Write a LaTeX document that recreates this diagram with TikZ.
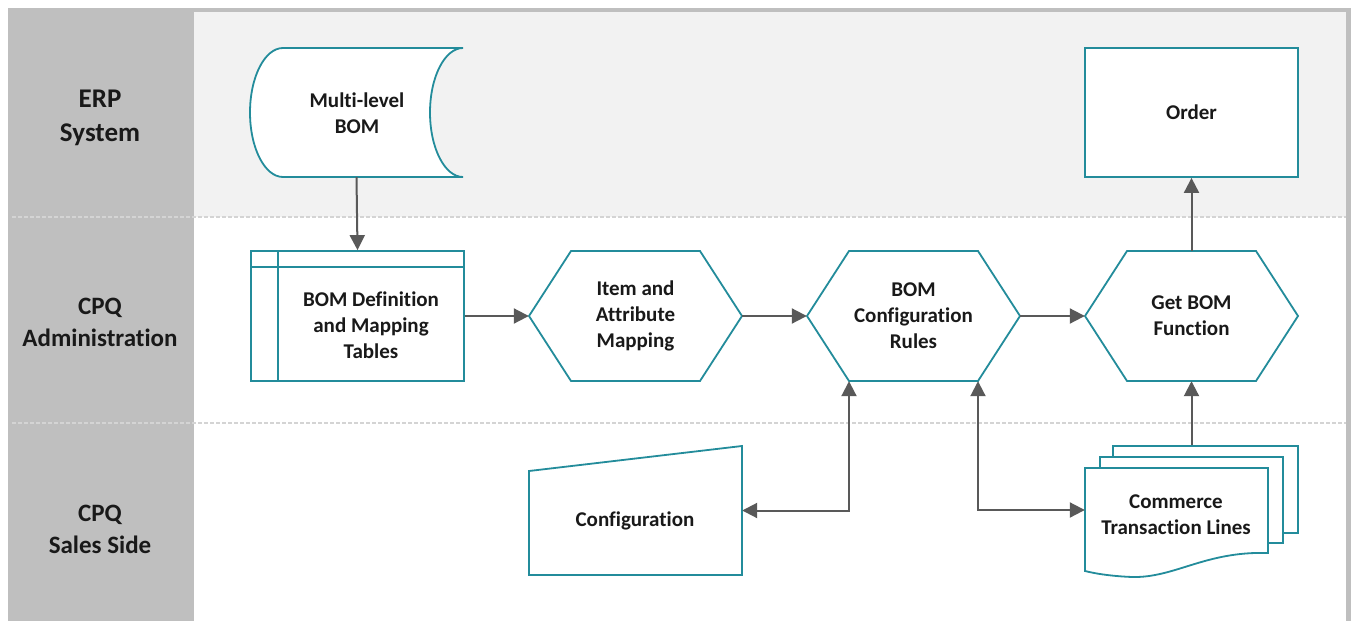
\documentclass[tikz,border=0pt]{standalone}
\usepackage{fontspec}
\setmainfont{Carlito}[Ligatures={NoCommon}]
\usetikzlibrary{arrows.meta,calc}
\definecolor{teal1}{RGB}{35,140,155}
\definecolor{arrgray}{RGB}{89,89,89}
\definecolor{framegray}{RGB}{191,191,191}
\definecolor{bandgray}{RGB}{242,242,242}
\definecolor{dotgray}{RGB}{212,212,212}
\definecolor{txt}{RGB}{25,25,25}
\begin{document}
\begin{tikzpicture}[x=1pt,y=-1pt,
 shapeline/.style={draw=teal1,line width=1.8pt,fill=white},
 box/.style={draw=none,minimum width=213pt,minimum height=130pt,inner sep=0pt},
 lbl/.style={font=\bfseries\fontsize{21}{26}\selectfont,text=txt,align=center,inner sep=0pt},
 lane/.style={font=\bfseries\fontsize{25}{32}\selectfont,text=txt,align=center,inner sep=0pt},
 arr/.style={draw=arrgray,line width=2pt,-{Triangle[length=15pt,width=15pt]}},
 darr/.style={draw=arrgray,line width=2pt,{Triangle[length=15pt,width=15pt]}-{Triangle[length=15pt,width=15pt]}},
 sep/.style={draw=dotgray,line width=2pt,dash pattern=on 4pt off 2pt}]
\useasboundingbox (0,0) rectangle (1351,621);
% frame and lanes
\fill[framegray] (8,8) rectangle (1351,621);
\fill[white] (194,12) rectangle (1346,621);
\fill[bandgray] (194,12) rectangle (1346,217);
\draw[sep] (12,217) -- (1346,217);
\draw[sep] (12,423) -- (1346,423);
\node[lane,font=\bfseries\fontsize{27}{34}\selectfont] (erp) at (100,118) {ERP\\System};
\node[lane] (adm) at (100,322) {CPQ\\Administration};
\node[lane] (sales) at (100,529) {CPQ\\Sales Side};

% Multi-level BOM (stored data)
\path[shapeline] (283,48) -- (463,48)
  .. controls (444.8,48) and (430,76.9) .. (430,112.5)
  .. controls (430,148.1) and (444.8,177) .. (463,177)
  -- (283,177)
  .. controls (264.8,177) and (250,148.1) .. (250,112.5)
  .. controls (250,76.9) and (264.8,48) .. cycle;
\node[box,minimum height=129pt] (mlbom) at (356.5,112.5) {};
\node[lbl] (mlbomtxt) at (357,113) {Multi-level\\BOM};

% BOM Definition and Mapping Tables
\node[box,shapeline] (bomdef) at (357.5,316) {};
\draw[teal1,line width=1.8pt] (278,251) -- (278,381);
\draw[teal1,line width=1.8pt] (251,267) -- (464,267);
\node[lbl] (bomdeftxt) at (371,325) {BOM Definition\\and Mapping\\Tables};

% hexagons
\path[shapeline] (529,316) -- (571,251) -- (700,251) -- (742,316) -- (700,381) -- (571,381) -- cycle;
\node[box,lbl] (item) at (635.5,316) {Item and\\Attribute\\Mapping};
\path[shapeline] (807,316) -- (849,251) -- (978,251) -- (1020,316) -- (978,381) -- (849,381) -- cycle;
\node[box,lbl] (bomcfg) at (913.5,316) {BOM\\Configuration\\Rules};
\path[shapeline] (1085,316) -- (1127,251) -- (1256,251) -- (1298,316) -- (1256,381) -- (1127,381) -- cycle;
\node[box,lbl] (getbom) at (1191.5,316) {Get BOM\\Function};

% Order
\node[box,shapeline,minimum height=129pt,lbl] (order) at (1191.5,112.5) {Order};

% Configuration (manual input)
\path[shapeline] (529,471) -- (742,446) -- (742,575) -- (529,575) -- cycle;
\node[box,minimum height=129pt] (config) at (635.5,510.5) {};
\node[lbl] (configtxt) at (635,521) {Configuration};

% Commerce Transaction Lines (multi-document)
\node[shapeline,minimum width=185pt,minimum height=87pt,inner sep=0pt] (ctlback) at (1205.5,489.5) {};
\node[shapeline,minimum width=183pt,minimum height=86pt,inner sep=0pt] (ctlmid) at (1191.5,500) {};
\path[shapeline] (1085,468) -- (1268,468) -- (1268,553)
  .. controls (1205,551) and (1175,578) .. (1132,577)
  .. controls (1108,576) and (1093,573) .. (1085,571) -- cycle;
\node[box,minimum width=183pt,minimum height=84pt] (ctl) at (1176.5,510) {};
\node[lbl] (ctltxt) at (1176,515) {Commerce\\Transaction Lines};

% connectors
\draw[arr] (mlbom.south) -- (bomdef.north);
\draw[arr] (bomdef.east) -- (item.west);
\draw[arr] (item.east) -- (bomcfg.west);
\draw[arr] (bomcfg.east) -- (getbom.west);
\draw[arr] (getbom.north) -- (order.south);
\draw[arr] (getbom.south |- ctlback.north) -- (getbom.south);
\draw[darr] (config.east) -| ([xshift=-64.5pt]bomcfg.south);
\draw[darr] ([xshift=64.5pt]bomcfg.south) |- (ctl.west);
\end{tikzpicture}
\end{document}
